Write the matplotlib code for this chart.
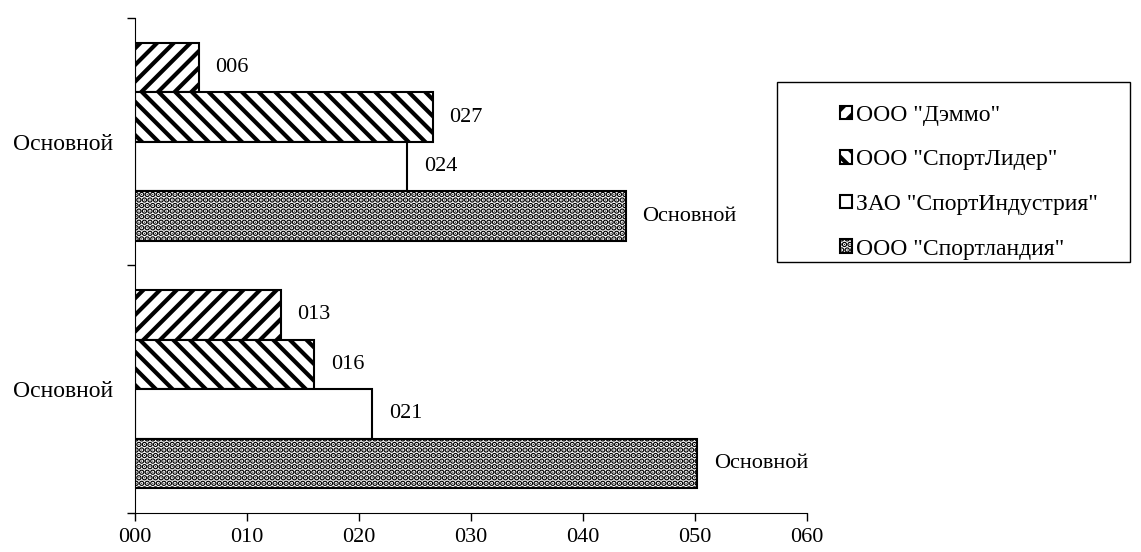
import matplotlib.pyplot as plt
from matplotlib.patches import Rectangle

plt.rcParams['font.family'] = ['Liberation Serif', 'DejaVu Serif']
plt.rcParams['hatch.linewidth'] = 3.0

# Data
categories = ['Основной', 'Основной']
companies = ['ООО "Дэммо"', 'ООО "СпортЛидер"', 'ЗАО "СпортИндустрия"', 'ООО "Спортландия"']
demmo = [13.0, 5.7]
sportlider = [16.0, 26.6]
sportindustria = [21.2, 24.3]
sportlandia = [50.2, 43.8]
x_ticks = [0, 10, 20, 30, 40, 50, 60]

fig = plt.figure(figsize=(11.41, 5.52), dpi=100)
ax = fig.add_axes([0.1183, 0.0707, 0.589, 0.8967])

ypos = [0, 1]
h = 0.2
series = [demmo, sportlider, sportindustria, sportlandia]
offsets = [0.3, 0.1, -0.1, -0.3]
hatches = ['//', '\\\\', '', '...']

bars = []
for vals, off, hat, name in zip(series, offsets, hatches, companies):
    b = ax.barh([y + off for y in ypos], vals, height=h, color='white',
                edgecolor='black', linewidth=1.5, hatch=hat, label=name)
    bars.append(b)

# value labels; the last series shows the category name instead
for b, vals in zip(bars[:3], series[:3]):
    ax.bar_label(b, labels=['{:03.0f}'.format(v) for v in vals], padding=12, fontsize=16)
ax.bar_label(bars[3], labels=categories, padding=12, fontsize=16)
for t in ax.texts:
    t.set_y(t.get_position()[1] - 0.012)

ax.set_xlim(0, 60)
ax.set_ylim(-0.5, 1.5)
ax.set_xticks(x_ticks)
ax.set_xticklabels(['{:03d}'.format(t) for t in x_ticks], fontsize=16)
ax.set_yticks(ypos)
ax.set_yticklabels(categories, fontsize=17)
ax.set_yticks([-0.5, 0.5, 1.5], minor=True)
ax.tick_params(axis='y', which='major', length=0, pad=16)
ax.tick_params(axis='y', which='minor', length=6, width=1)
ax.tick_params(axis='x', length=6, width=1, pad=5)
ax.spines['top'].set_visible(False)
ax.spines['right'].set_visible(False)

# legend with a plain rectangular frame
fig.patches.append(Rectangle((0.681, 0.525), 0.309, 0.326, transform=fig.transFigure,
                             fill=False, edgecolor='black', linewidth=1))
handles, labels = ax.get_legend_handles_labels()
fig.legend(handles, labels, loc='center left', bbox_to_anchor=(0.7174, 0.670),
           frameon=False, fontsize=17, handlelength=0.5, handleheight=0.5,
           handletextpad=0.2, labelspacing=1.0)

fig.savefig('out.png', dpi=100)
